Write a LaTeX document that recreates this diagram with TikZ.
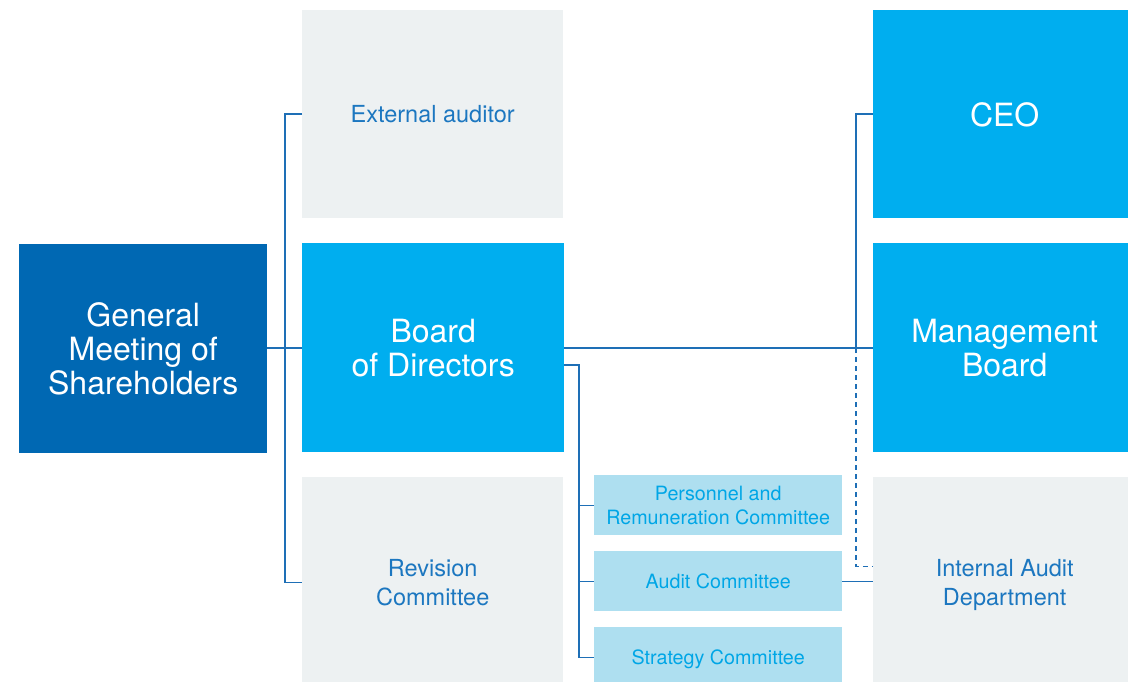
\documentclass[tikz,border=0pt]{standalone}
\usepackage{fontspec}
\usetikzlibrary{calc}
\setmainfont{TeX Gyre Heros}
\begin{document}
\begin{tikzpicture}[x=1pt,y=-1pt,
  box/.style={anchor=north west,inner sep=0pt,align=center,text depth=0pt},
  bigtext/.style={font=\fontsize{32}{34}\selectfont},
  midtext/.style={font=\fontsize{23.5}{29}\selectfont},
  smalltext/.style={font=\fontsize{19.7}{24}\selectfont},
  gmsbox/.style={box,bigtext,fill=gmsblue,text=white,minimum width=248pt,minimum height=209pt},
  cyanbox/.style={box,bigtext,fill=cyanblue,text=white,minimum width=262pt,minimum height=209pt},
  greybox/.style={box,midtext,fill=paleGrey,text=textBlue,minimum width=261pt},
  combox/.style={box,smalltext,fill=paleCyan,text=comText,minimum width=248pt,minimum height=60pt},
  link/.style={draw=lineBlue,line width=1.4pt},
  dottedlink/.style={link,dash pattern=on 5pt off 4pt}
]
\definecolor{gmsblue}{HTML}{0068B3}
\definecolor{cyanblue}{HTML}{00AEEF}
\definecolor{paleGrey}{HTML}{EDF1F2}
\definecolor{paleCyan}{HTML}{AEDFF0}
\definecolor{textBlue}{HTML}{1C77C0}
\definecolor{comText}{HTML}{00A6E6}
\definecolor{lineBlue}{HTML}{1E6FB6}

\useasboundingbox (0,0) rectangle (1128,682);
\fill[white] (0,0) rectangle (1128,682);

% left column
\node[gmsbox] (gms) at (19,244) {General\\Meeting of\\Shareholders};

% middle column
\node[greybox,minimum height=208pt] (ext) at (302,10) {External auditor};
\node[cyanbox] (board) at (302,243) {Board\\of Directors};
\node[greybox,minimum height=210pt] (rev) at (302,477) {Revision\\Committee};

% committees
\node[combox] (pers) at (594,475) {Personnel and\\Remuneration Committee};
\node[combox] (aud) at (594,551) {Audit Committee};
\node[combox] (strat) at (594,627) {Strategy Committee};

% right column (runs past the page edge)
\node[box,bigtext,fill=cyanblue,text=white,minimum width=263pt,minimum height=208pt] (ceo) at (873,10) {CEO};
\node[box,bigtext,fill=cyanblue,text=white,minimum width=263pt,minimum height=209pt] (mb) at (873,243) {Management\\Board};
\node[greybox,minimum width=263pt,minimum height=210pt] (ia) at (873,477) {Internal Audit\\Department};

% junction points
\coordinate (lbus) at (285,348);
\coordinate (rbus) at (856,348);
\coordinate (cbus) at (579,365);
\coordinate (iaTap) at ($(ia.west)+(0,-16)$);

% shareholders to board level
\draw[link] (gms.east |- lbus) -- (board.west |- lbus);
\draw[link] (ext.west) -| (lbus) |- (rev.west);

% board to management
\draw[link] (board.east |- lbus) -- (mb.west |- lbus);
\draw[link] (ceo.west) -| (rbus);
\draw[dottedlink] (rbus) |- (iaTap);

% board committees
\draw[link] (board.east |- cbus) -- (cbus) |- (strat.west);
\draw[link] (cbus |- pers.west) -- (pers.west);
\draw[link] (cbus |- aud.west) -- (aud.west);
\draw[link] (aud.east) -- (aud.east -| ia.west);
\end{tikzpicture}
\end{document}
